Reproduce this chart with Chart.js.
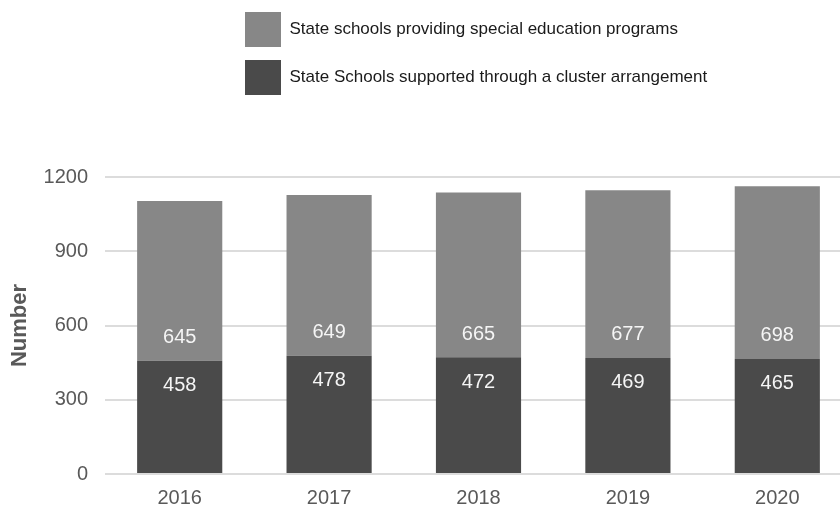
<!DOCTYPE html>
<html>
<head>
<meta charset="utf-8">
<script src="https://cdn.jsdelivr.net/npm/chart.js@4/dist/chart.umd.min.js"></script>
<style>
  html, body { margin: 0; padding: 0; background: #fff; overflow: hidden; }
  #wrap { width: 852px; height: 509px; }
</style>
</head>
<body>
<div id="wrap"><canvas id="schoolsChart"></canvas></div>
<script>
const years = ['2016', '2017', '2018', '2019', '2020'];
const clusterSchools = [458, 478, 472, 469, 465];
const specialEdSchools = [645, 649, 665, 677, 698];
const yTicks = [0, 300, 600, 900, 1200];

const FONT = '"Liberation Sans", Arial, sans-serif';

// value labels drawn inside each bar segment
const valueLabels = {
  id: 'valueLabels',
  afterDatasetsDraw(chart) {
    const ctx = chart.ctx;
    ctx.save();
    ctx.font = '20px ' + FONT;
    ctx.fillStyle = '#f5f5f5';
    ctx.textAlign = 'center';
    ctx.textBaseline = 'middle';
    chart.data.datasets.forEach((ds, i) => {
      chart.getDatasetMeta(i).data.forEach((bar, j) => {
        const y = i === 0 ? bar.y + 25 : bar.base - 23;
        ctx.fillText(ds.data[j], bar.x, y);
      });
    });
    ctx.restore();
  }
};

// move the legend so both rows start at the same x
const legendPlacer = {
  id: 'legendPlacer',
  afterLayout(chart) {
    chart.legend.left = 232;
    chart.legend.top = -1;
  }
};

const ctx = document.getElementById('schoolsChart').getContext('2d');
new Chart(ctx, {
  type: 'bar',
  data: {
    labels: years,
    datasets: [
      {
        label: 'State Schools supported through a cluster arrangement',
        data: clusterSchools,
        backgroundColor: '#4a4a4a',
        borderWidth: 0
      },
      {
        label: 'State schools providing special education programs',
        data: specialEdSchools,
        backgroundColor: '#878787',
        borderWidth: 0
      }
    ]
  },
  options: {
    responsive: true,
    maintainAspectRatio: false,
    animation: false,
    layout: { padding: { top: 71, left: 0, right: 0, bottom: 0 } },
    datasets: { bar: { categoryPercentage: 1.0, barPercentage: 0.57 } },
    plugins: {
      tooltip: { enabled: false },
      legend: {
        position: 'top',
        align: 'start',
        reverse: true,
        labels: {
          boxWidth: 36,
          boxHeight: 35,
          padding: 13,
          color: '#1a1a1a',
          font: { family: FONT, size: 17 }
        }
      }
    },
    scales: {
      x: {
        stacked: true,
        grid: { display: false, drawTicks: false },
        border: { display: false },
        ticks: { color: '#595959', padding: 12, font: { family: FONT, size: 20 } },
        afterFit(scale) { scale.height = 35; }
      },
      y: {
        stacked: true,
        min: 0,
        max: 1200,
        afterBuildTicks(scale) { scale.ticks = yTicks.map(v => ({ value: v })); },
        grid: { color: '#dcdcdc', lineWidth: 2, drawTicks: false },
        border: { display: false },
        ticks: {
          color: '#595959',
          padding: 17,
          font: { family: FONT, size: 20 },
          callback: v => String(v)
        },
        title: {
          display: true,
          text: 'Number',
          color: '#595959',
          padding: { top: 7, bottom: 0 },
          font: { family: FONT, size: 22, weight: 'bold' }
        },
        afterFit(scale) { scale.width = 105; }
      }
    }
  },
  plugins: [valueLabels, legendPlacer]
});
</script>
</body>
</html>
